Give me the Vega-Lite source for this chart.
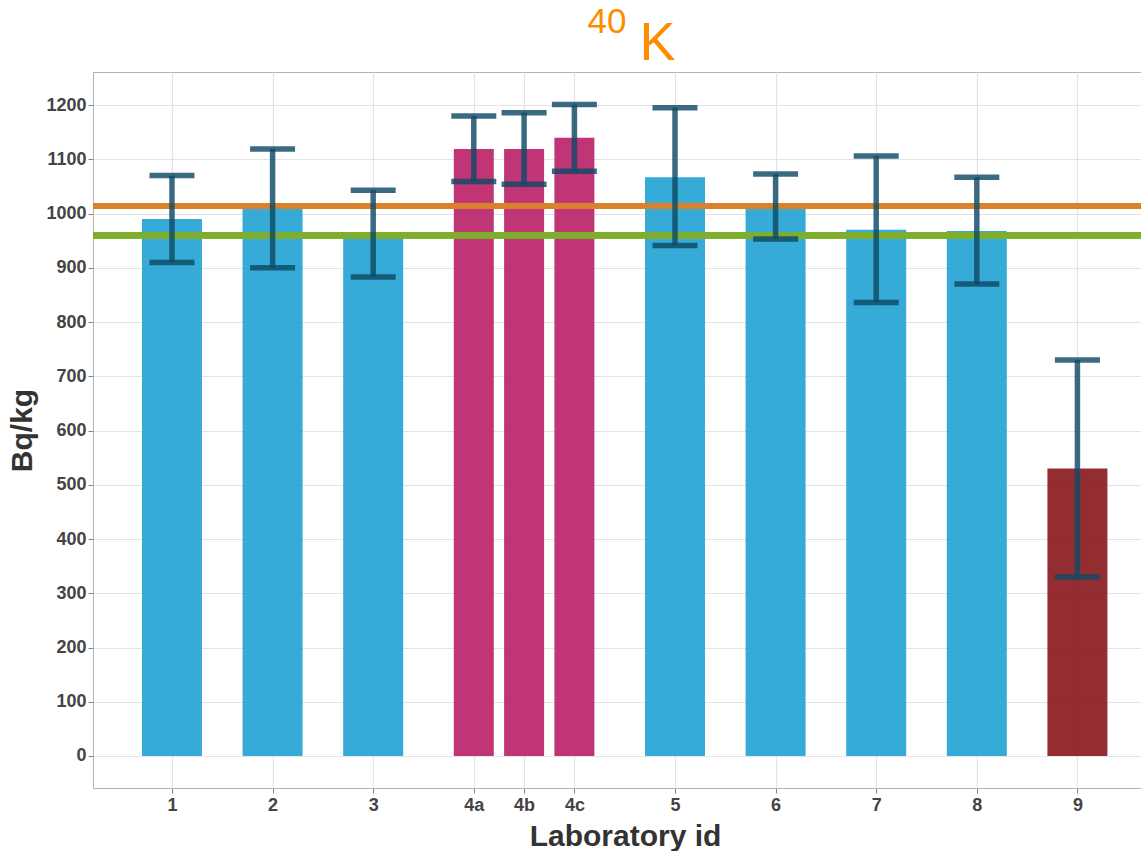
{
  "$schema": "https://vega.github.io/schema/vega-lite/v6.json",
  "autosize": {"type": "none"},
  "padding": {"left": 93, "top": 72, "right": 0, "bottom": 63},
  "width": 1048,
  "height": 716,
  "background": "white",
  "title": {
    "text": "40",
    "font": "Liberation Sans",
    "fontSize": 35,
    "fontWeight": "normal",
    "color": "#ff8c00",
    "anchor": "middle",
    "offset": -24,
    "dx": -10
  },
  "resolve": {"axis": {"y": "independent"}},
  "config": {
    "view": {"stroke": "#b3b3b3", "strokeWidth": 1},
    "axis": {
      "labelFont": "Liberation Sans",
      "labelFontWeight": "bold",
      "labelFontSize": 18,
      "labelColor": "#444444",
      "titleFont": "Liberation Sans",
      "titleFontWeight": "bold",
      "titleFontSize": 30,
      "titleColor": "#333333",
      "gridColor": "#e3e3e3",
      "gridWidth": 1.2,
      "tickColor": "#808080",
      "tickSize": 5,
      "domainColor": "#b3b3b3"
    }
  },
  "data": {
    "values": [
      {"lab": "1", "pos": 1, "value": 990, "lo": 910, "hi": 1070, "status": "normal"},
      {"lab": "2", "pos": 2, "value": 1009, "lo": 900, "hi": 1119, "status": "normal"},
      {"lab": "3", "pos": 3, "value": 962, "lo": 883, "hi": 1043, "status": "normal"},
      {"lab": "4a", "pos": 4, "value": 1119, "lo": 1059, "hi": 1180, "status": "split"},
      {"lab": "4b", "pos": 4.5, "value": 1119, "lo": 1054, "hi": 1186, "status": "split"},
      {"lab": "4c", "pos": 5, "value": 1140, "lo": 1078, "hi": 1201, "status": "split"},
      {"lab": "5", "pos": 6, "value": 1067, "lo": 941, "hi": 1195, "status": "normal"},
      {"lab": "6", "pos": 7, "value": 1011, "lo": 953, "hi": 1073, "status": "normal"},
      {"lab": "7", "pos": 8, "value": 970, "lo": 836, "hi": 1106, "status": "normal"},
      {"lab": "8", "pos": 9, "value": 968, "lo": 870, "hi": 1067, "status": "normal"},
      {"lab": "9", "pos": 10, "value": 530, "lo": 330, "hi": 730, "status": "outlier"}
    ]
  },
  "encoding": {
    "x": {
      "field": "pos",
      "type": "quantitative",
      "scale": {"domain": [0.215, 10.632], "nice": false, "zero": false, "padding": 0},
      "axis": {
        "title": "Laboratory id",
        "titleX": 532,
        "values": [1, 2, 3, 4, 4.5, 5, 6, 7, 8, 9, 10],
        "labelExpr": "datum.value == 4 ? '4a' : datum.value == 4.5 ? '4b' : datum.value == 5 ? '4c' : datum.value < 4 ? datum.value : datum.value - 1",
        "domain": true,
        "titlePadding": 7,
        "labelPadding": 3
      }
    }
  },
  "layer": [
    {
      "transform": [{"filter": "datum.status != 'split'"}],
      "mark": {"type": "bar", "size": 60, "opacity": 0.95},
      "encoding": {
        "y": {
          "field": "value",
          "type": "quantitative",
          "scale": {"domain": [-59, 1261], "nice": false, "zero": false, "padding": 0},
          "axis": {
            "title": "Bq/kg",
            "format": "d",
            "values": [0, 100, 200, 300, 400, 500, 600, 700, 800, 900, 1000, 1100, 1200],
            "titlePadding": 8,
            "labelPadding": 2
          }
        },
        "y2": {"datum": 0},
        "color": {
          "field": "status",
          "type": "nominal",
          "scale": {"domain": ["normal", "split", "outlier"], "range": ["#2ba7d5", "#bc2a6e", "#8e2226"]},
          "legend": null
        }
      }
    },
    {
      "transform": [{"filter": "datum.status == 'split'"}],
      "mark": {"type": "bar", "size": 40, "opacity": 0.95},
      "encoding": {
        "y": {"field": "value", "type": "quantitative", "axis": null},
        "y2": {"datum": 0},
        "color": {"field": "status", "type": "nominal"}
      }
    },
    {
      "mark": {"type": "rule", "color": "#d9822b", "strokeWidth": 6},
      "encoding": {"y": {"datum": 1014, "axis": null}, "x": null}
    },
    {
      "mark": {"type": "rule", "color": "#7fae2f", "strokeWidth": 6},
      "encoding": {"y": {"datum": 960, "axis": null}, "x": null}
    },
    {
      "mark": {"type": "rule", "color": "#0f4b66", "strokeWidth": 5.5, "opacity": 0.82},
      "encoding": {
        "y": {
          "field": "lo",
          "type": "quantitative",
          "axis": {
            "orient": "right",
            "title": "K",
            "titleFont": "Liberation Sans",
            "titleFontWeight": "normal",
            "titleFontSize": 54,
            "titleColor": "#ff8c00",
            "titleAngle": 0,
            "titleAlign": "center",
            "titleBaseline": "alphabetic",
            "titleX": -484,
            "titleY": -13,
            "labels": false,
            "ticks": false,
            "domain": false,
            "grid": false
          }
        },
        "y2": {"field": "hi"}
      }
    },
    {
      "mark": {"type": "tick", "orient": "horizontal", "color": "#0f4b66", "size": 45, "thickness": 5.5, "opacity": 0.82},
      "encoding": {"y": {"field": "lo", "type": "quantitative", "axis": null}}
    },
    {
      "mark": {"type": "tick", "orient": "horizontal", "color": "#0f4b66", "size": 45, "thickness": 5.5, "opacity": 0.82},
      "encoding": {"y": {"field": "hi", "type": "quantitative", "axis": null}}
    }
  ]
}
